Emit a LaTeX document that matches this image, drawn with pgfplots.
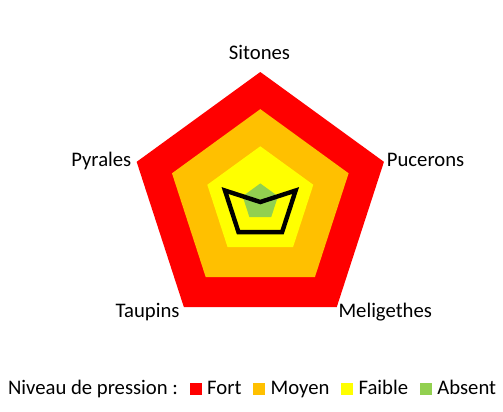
\documentclass[border=0pt]{standalone}
\usepackage{fontspec}
\setmainfont{Carlito}
\usepackage{pgfplots}
\pgfplotsset{compat=1.18}
\usepgfplotslibrary{polar}
\definecolor{fort}{HTML}{FF0000}
\definecolor{moyen}{HTML}{FFC000}
\definecolor{faible}{HTML}{FFFF00}
\definecolor{absent}{HTML}{92D050}
\begin{document}
\fontsize{20.7bp}{24bp}\selectfont
\begin{tikzpicture}[x=1bp,y=1bp]
\path[use as bounding box] (0,0) rectangle (503,411);
\begin{polaraxis}[
    at={(260.3bp,209bp)}, anchor=center,
    scale only axis, width=260bp, height=260bp,
    hide axis, clip=false,
    xmin=0, xmax=360, ymin=0, ymax=3.5,
    legend columns=5,
    legend image code/.code={\fill[#1] (0bp,0bp) rectangle (11.7bp,11.7bp);},
    legend style={at={(-0.4915,-0.2615)}, anchor=south west,
        draw=none, fill=none, inner sep=0pt, outer sep=0pt,
        cells={anchor=base west, inner sep=0pt},
        column sep=0pt,
        /tikz/every odd column/.style={column sep=3.5bp},
        /tikz/every even column/.style={column sep=10bp}},
]
\addlegendimage{empty legend}

% Fort
\addplot[draw=none, fill=fort] coordinates {
    (90,3.5) (18,3.5) (306,3.5) (234,3.5) (162,3.5) (90,3.5)};
% Moyen
\addplot[draw=none, fill=moyen] coordinates {
    (90,2.5) (18,2.5) (306,2.5) (234,2.5) (162,2.5) (90,2.5)};
% Faible
\addplot[draw=none, fill=faible] coordinates {
    (90,1.5) (18,1.5) (306,1.5) (234,1.5) (162,1.5) (90,1.5)};
% Absent
\addplot[draw=none, fill=absent] coordinates {
    (90,0.5) (18,0.5) (306,0.5) (234,0.5) (162,0.5) (90,0.5)};

% observed pressure
\addplot[forget plot, black, line width=4.4bp, line join=miter] coordinates {
    (90,0) (18,1) (306,1) (234,1) (162,1)} -- cycle;

\legend{Niveau de pression~:\hspace{10bp}, Fort, Moyen, Faible, Absent}
\end{polaraxis}

\node[anchor=base, inner sep=0pt] at (259.5,351.7) {Sitones};
\node[anchor=base west, inner sep=0pt] at (386.7,244.3) {Pucerons};
\node[anchor=base east, inner sep=0pt] at (131.5,244.3) {Pyrales};
\node[anchor=base east, inner sep=0pt] at (179.8,93.7) {Taupins};
\node[anchor=base west, inner sep=0pt] at (338.3,93.7) {Meligethes};
\end{tikzpicture}
\end{document}
